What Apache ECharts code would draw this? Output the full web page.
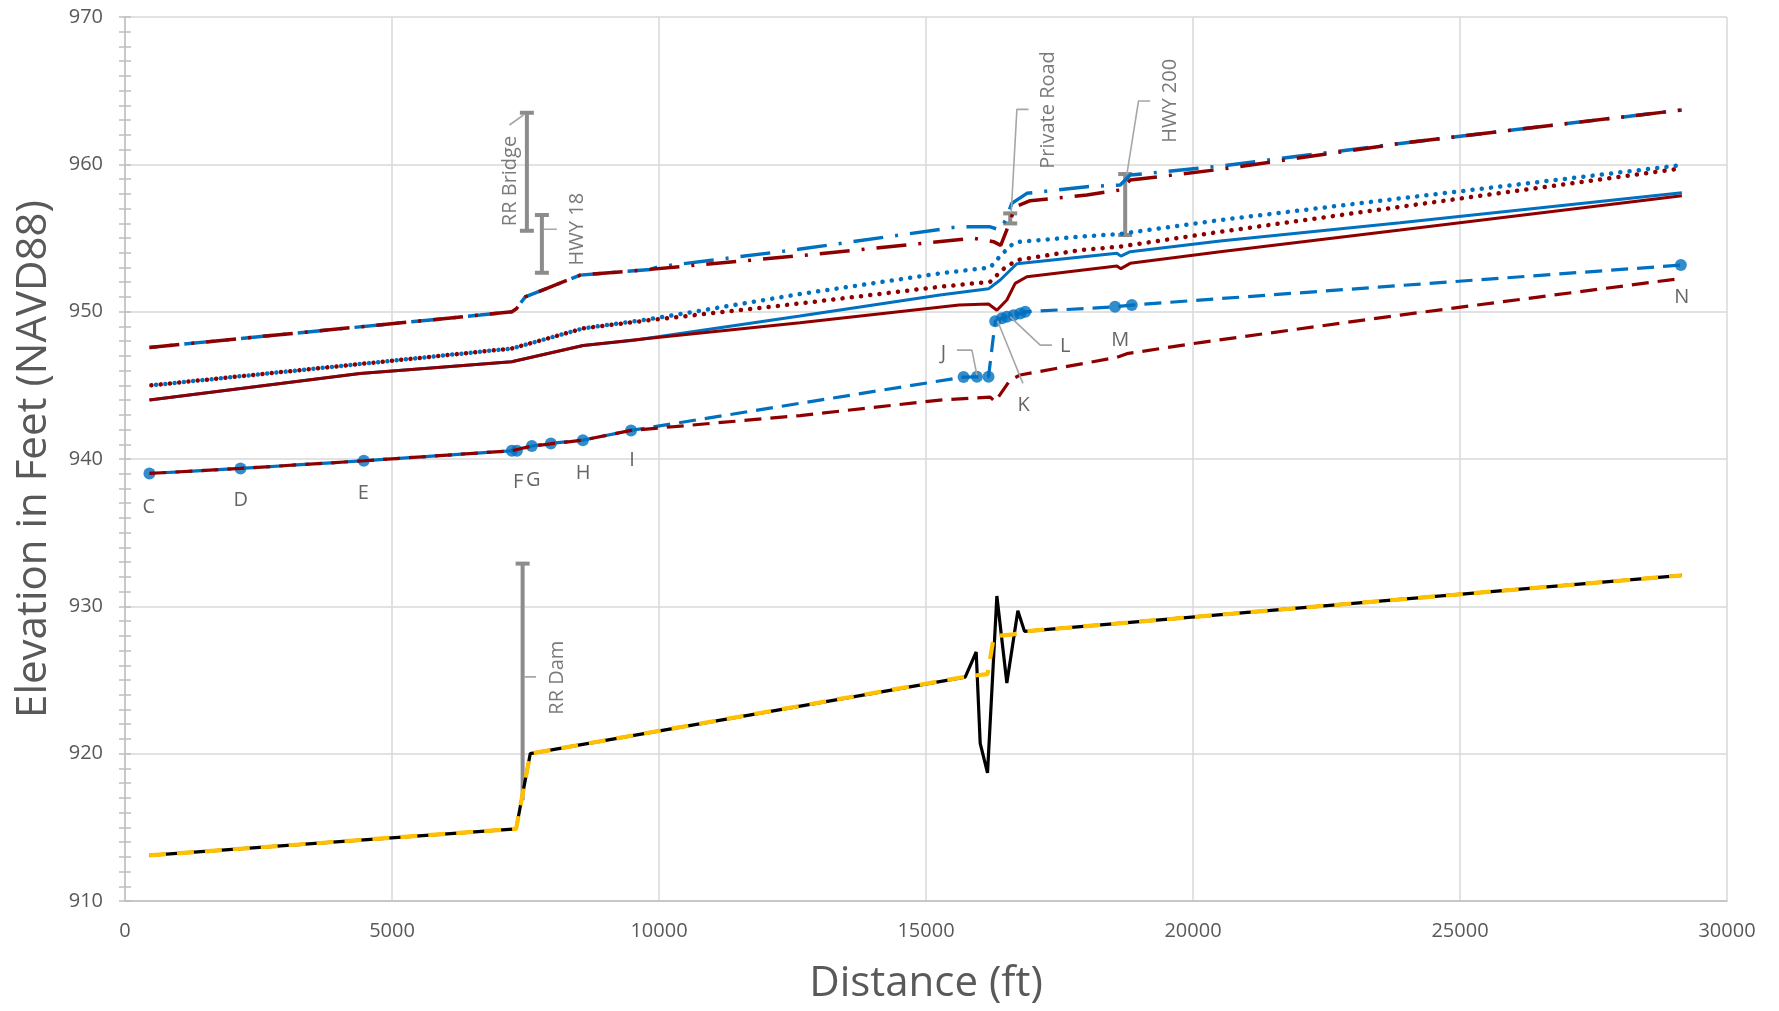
<!DOCTYPE html>
<html lang="en">
  <head>
    <meta charset="UTF-8" />
    <title>Water surface profiles</title>
    <script src="https://cdn.jsdelivr.net/npm/echarts@6/dist/echarts.min.js"></script>
    <style>
      html,
      body {
        margin: 0;
        padding: 0;
        background: #fff;
      }
      #profile {
        width: 1779px;
        height: 1011px;
      }
    </style>
  </head>

  <body>
    <div id="profile"></div>
    <script>
      // [distance ft, elevation ft NAVD88]
      var blueDashDot = [[458, 947.57], [6652, 949.77], [7245, 950.0], [7330, 950.2], [7494, 951.0], [8524, 952.48], [9835, 952.87], [10000, 953.05], [12613, 954.23], [15622, 955.77], [16202, 955.76], [16390, 955.54], [16500, 956.3], [16607, 957.35], [16889, 958.03], [18013, 958.48], [18637, 958.6], [18824, 959.27], [20509, 959.88], [23880, 961.42], [29155, 963.69]];
      var redDashDot = [[458, 947.57], [6652, 949.77], [7245, 950.0], [7330, 950.2], [7494, 951.0], [8524, 952.48], [9835, 952.87], [12644, 953.8], [15890, 954.98], [16264, 954.75], [16400, 954.5], [16560, 956.0], [16670, 957.12], [16951, 957.53], [18013, 957.92], [18637, 958.26], [18824, 958.93], [20509, 959.66], [23880, 961.42], [29155, 963.69]];

      var blueDotted = [[494, 945.0], [7245, 947.5], [8586, 948.87], [9835, 949.5], [12644, 951.2], [15262, 952.6], [16202, 953.0], [16420, 953.9], [16639, 954.64], [16764, 954.75], [17888, 955.09], [18620, 955.27], [20509, 956.22], [23880, 957.69], [29155, 959.95]];
      var redDotted = [[494, 945.0], [7245, 947.5], [8586, 948.87], [9835, 949.43], [12644, 950.56], [15262, 951.69], [16202, 952.03], [16450, 952.9], [16701, 953.5], [17888, 954.18], [18620, 954.41], [20509, 955.42], [23880, 957.12], [29155, 959.73]];

      var blueSolid = [[458, 944.0], [4400, 945.8], [7240, 946.6], [8580, 947.7], [9500, 948.05], [12640, 949.7], [15262, 951.13], [16171, 951.55], [16390, 952.15], [16701, 953.25], [18574, 953.96], [18650, 953.77], [18824, 954.07], [20509, 954.79], [23880, 956.04], [29155, 958.07]];
      var redSolid = [[458, 944.0], [4400, 945.8], [7240, 946.6], [8580, 947.7], [9830, 948.2], [12640, 949.25], [15620, 950.45], [16171, 950.52], [16327, 950.1], [16514, 950.79], [16670, 951.92], [16889, 952.37], [18574, 953.1], [18650, 952.92], [18824, 953.28], [20509, 954.07], [23880, 955.54], [29155, 957.87]];

      // surveyed points C..N (blue dashed with markers)
      var obsPts = [[458, 939.02], [2163, 939.36], [4472, 939.88], [7245, 940.56], [7339, 940.56], [7619, 940.88], [7975, 941.06], [8574, 941.28], [9476, 941.94], [15703, 945.56], [15953, 945.58], [16171, 945.58], [16296, 949.35], [16421, 949.55], [16515, 949.65], [16639, 949.75], [16764, 949.88], [16858, 949.99], [18540, 950.33], [18854, 950.45], [29136, 953.16]];
      var redDashed = [[458, 939.02], [2163, 939.36], [4472, 939.88], [7245, 940.56], [7619, 940.88], [8574, 941.28], [9476, 941.94], [12644, 942.95], [15262, 944.0], [16202, 944.2], [16296, 943.88], [16358, 944.22], [16577, 945.36], [16764, 945.7], [18574, 946.9], [18762, 947.15], [20166, 947.92], [23880, 949.77], [29155, 952.26]];

      // channel bed
      var bedLine = [[450, 913.1], [7324, 914.9], [7589, 920.0], [15734, 925.2], [15940, 926.9], [16015, 920.7], [16152, 918.7], [16327, 930.7], [16514, 924.8], [16720, 929.7], [16845, 928.3], [29155, 932.1]];
      var bedSmooth = [[450, 913.1], [7324, 914.9], [7589, 920.0], [15780, 925.25], [16152, 925.4], [16264, 927.8], [16330, 928.0], [16640, 928.1], [16845, 928.3], [29155, 932.1]];

      // structures: [distance, top, bottom]
      var structNames = ["RR Bridge", "HWY 18", "Private Road", "HWY 200", "RR Dam"];
      var structBars = [[7526, 963.5, 955.49], [7807, 956.56, 952.64], [16577, 956.67, 955.99], [18730, 959.34, 955.2], [7446, 932.9, 916.84]];
      var structLabelAt = [[7213, 958.87], [8463, 955.6], [17294, 963.69], [19573, 964.31], [8090, 925.16]];

      var pointNames = ["C", "D", "E", "F", "G", "H", "I", "J", "K", "L", "M", "N"];
      var pointLabelAt = [[446, 936.72], [2167, 937.18], [4461, 937.65], [7363, 938.45], [7644, 938.57], [8581, 939.04], [9493, 939.9], [15328, 947.17], [16826, 943.66], [17607, 947.62], [18637, 948.07], [29152, 950.97]];

      // callout leader lines
      var leaders = [
        [[7200, 962.67], [7463, 963.35]],
        [[7831, 955.59], [8088, 955.59]],
        [[16920, 963.73], [16702, 963.73], [16596, 956.71]],
        [[19199, 964.3], [18980, 964.3], [18762, 959.34]],
        [[7481, 925.21], [7697, 925.21]],
        [[15579, 947.39], [15860, 947.39], [15953, 945.7]],
        [[16815, 945.13], [16339, 949.38]],
        [[17358, 947.73], [17139, 947.73], [16577, 949.65]]
      ];

      var BLUE = "#0070C0";
      var RED = "#8E0000";
      var GRAY_TXT = "#595959";
      var FONT = "Open Sans";

      var chart = echarts.init(document.getElementById("profile"));

      function lineSeries(data, color, width, dash, extra) {
        var s = {
          type: "line",
          data: data,
          symbol: "none",
          silent: true,
          animation: false,
          lineStyle: { color: color, width: width, type: dash, cap: "butt" }
        };
        if (extra) {
          for (var k in extra) s.lineStyle[k] = extra[k];
        }
        return s;
      }

      var series = [
        lineSeries(blueDashDot, BLUE, 3.5, [30, 12, 3, 12], { dashOffset: 22 }),
        lineSeries(redDashDot, RED, 3.5, [30, 12, 3, 12]),
        lineSeries(blueDotted, BLUE, 4.5, [0.1, 9.2], { cap: "round", dashOffset: 4.6 }),
        lineSeries(redDotted, RED, 4.5, [0.1, 9.2], { cap: "round" }),
        lineSeries(blueSolid, BLUE, 3),
        lineSeries(redSolid, RED, 3),
        lineSeries(obsPts, BLUE, 3.2, [17, 9], { dashOffset: 13 }),
        lineSeries(redDashed, RED, 3.2, [17, 9]),
        {
          type: "scatter",
          data: obsPts,
          symbol: "circle",
          symbolSize: 12,
          itemStyle: { color: BLUE },
          silent: true,
          animation: false
        },
        lineSeries(bedLine, "#000000", 3.2),
        lineSeries(bedSmooth, "#FFC000", 4.2, [17, 11])
      ];

      // structure bars (I-beams)
      series.push({
        type: "custom",
        silent: true,
        animation: false,
        data: structBars,
        encode: { x: 0, y: [1, 2] },
        renderItem: function (params, api) {
          var top = api.coord([api.value(0), api.value(1)]);
          var bot = api.coord([api.value(0), api.value(2)]);
          var st = { stroke: "#8c8c8c", lineWidth: 4, fill: null };
          var w = 7;
          var kids = [
            { type: "line", shape: { x1: top[0], y1: top[1], x2: bot[0], y2: bot[1] }, style: st },
            { type: "line", shape: { x1: top[0] - w, y1: top[1], x2: top[0] + w, y2: top[1] }, style: st }
          ];
          // dam bar has no bottom cap
          if (params.dataIndex !== 4) {
            kids.push({ type: "line", shape: { x1: bot[0] - w, y1: bot[1], x2: bot[0] + w, y2: bot[1] }, style: st });
          }
          return { type: "group", children: kids };
        }
      });

      leaders.forEach(function (pts) {
        series.push(lineSeries(pts, "#a6a6a6", 1.6));
      });

      // structure labels, rotated
      series.push({
        type: "scatter",
        silent: true,
        animation: false,
        symbolSize: 0,
        data: structLabelAt.map(function (p, i) {
          return { value: p, name: structNames[i] };
        }),
        label: {
          show: true,
          position: "inside",
          rotate: 90,
          formatter: "{b}",
          color: GRAY_TXT,
          fontFamily: FONT,
          fontSize: 20
        }
      });

      // point labels C..N
      series.push({
        type: "scatter",
        silent: true,
        animation: false,
        symbolSize: 0,
        data: pointLabelAt.map(function (p, i) {
          return { value: p, name: pointNames[i] };
        }),
        label: {
          show: true,
          position: "inside",
          formatter: "{b}",
          color: "#404040",
          fontFamily: FONT,
          fontSize: 20
        }
      });

      var tickStyle = { color: "#bfbfbf", width: 1.5 };

      var option = {
        animation: false,
        textStyle: { fontFamily: FONT },
        grid: { left: 125, right: 52, top: 17, bottom: 110 },
        xAxis: {
          type: "value",
          min: 0,
          max: 30000,
          interval: 5000,
          name: "Distance (ft)",
          nameLocation: "middle",
          nameGap: 62,
          nameTextStyle: { fontSize: 42, color: GRAY_TXT, fontFamily: FONT },
          axisLine: { lineStyle: { color: "#bfbfbf", width: 1.5 } },
          axisTick: { show: false },
          axisLabel: {
            fontSize: 20,
            color: GRAY_TXT,
            margin: 20,
            fontFamily: FONT,
            formatter: function (v) {
              return String(v);
            }
          },
          splitLine: { lineStyle: { color: "#d9d9d9", width: 1.5 } }
        },
        yAxis: [
          {
            type: "value",
            min: 910,
            max: 970,
            interval: 10,
            name: "Elevation in Feet (NAVD88)",
            nameLocation: "middle",
            nameRotate: 90,
            nameGap: 70,
            nameTextStyle: { fontSize: 42, color: GRAY_TXT, fontFamily: FONT },
            axisLine: { show: true, lineStyle: { color: "#bfbfbf", width: 1.5 } },
            axisTick: { show: true, length: 6, lineStyle: tickStyle },
            minorTick: { show: true, splitNumber: 10, length: 6, lineStyle: tickStyle },
            axisLabel: { fontSize: 20, color: GRAY_TXT, margin: 22, fontFamily: FONT },
            splitLine: { lineStyle: { color: "#d9d9d9", width: 1.5 } }
          },
          {
            // inner half of the crossing ticks
            type: "value",
            position: "left",
            min: 910,
            max: 970,
            interval: 10,
            axisLine: { show: false },
            axisTick: { show: true, inside: true, length: 6, lineStyle: tickStyle },
            minorTick: { show: true, splitNumber: 10, length: 6, lineStyle: tickStyle },
            axisLabel: { show: false },
            splitLine: { show: false }
          }
        ],
        series: series
      };

      chart.setOption(option);
    </script>
  </body>
</html>
